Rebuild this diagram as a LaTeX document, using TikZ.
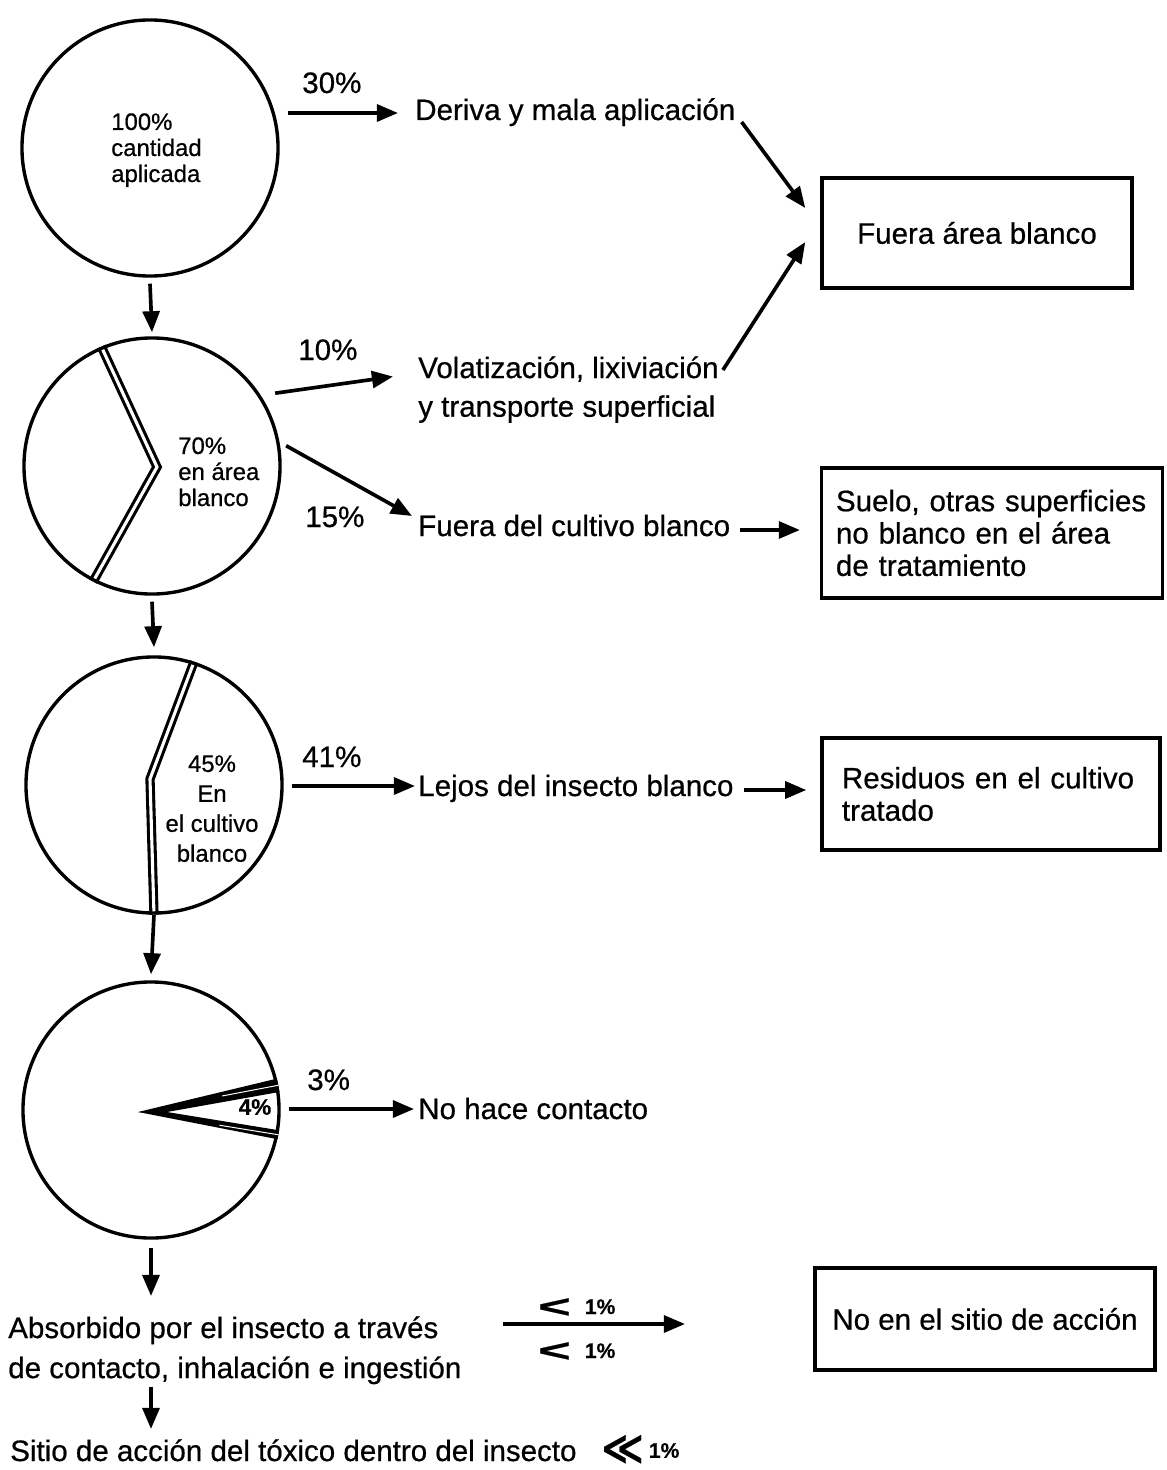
\documentclass[tikz,border=0pt]{standalone}
\usepackage{fontspec}
\setmainfont{Liberation Sans}[FakeBold=0.6]
\newfontfamily\llfont{DejaVu Sans}[FakeBold=0.6]
\usepackage{tikz}
\usetikzlibrary{positioning, arrows.meta, calc, backgrounds}

\newcommand{\lessmark}{\raisebox{-2.5pt}{\scalebox{1.65}[0.95]{\bfseries\fontsize{24}{24}\selectfont <}}}

\begin{document}
\begin{tikzpicture}[
  x=0.025cm, y=-0.025cm,
  every node/.style={font=\fontsize{21}{25}\selectfont},
  pie/.style={circle, draw, line width=2.4pt, minimum size=6.4cm, inner sep=0pt},
  box/.style={rectangle, draw, line width=2.4pt, align=left, inner sep=0pt},
  txt/.style={inner sep=0pt, align=left},
  small/.style={inner sep=0pt, font=\fontsize{17}{18.5}\selectfont},
  pct/.style={inner sep=0pt, anchor=base west},
  arrow/.style={-{Triangle[length=15pt, width=12pt]}, line width=2.6pt},
  split/.style={double, double distance=2.2pt, line width=2.2pt, line join=miter}
]
\useasboundingbox (0,0) rectangle (1166,1470);

% ── Circles ───────────────────────────────────────────────────────────────────
\node[pie] (c1) at (150,148) {};
\node[pie] (c2) at (152,466) {};
\node[pie] (c3) at (154,785) {};
\node[pie] (c4) at (151,1110) {};

\node[small, align=left, anchor=north west] (c1t) at (111,113)
  {100\%\\cantidad\\aplicada};
\node[small, align=left, anchor=north west] (c2t) at (178,437)
  {70\%\\en área\\blanco};
\node[small, align=center, anchor=north, font=\fontsize{17}{21.3}\selectfont]
  (c3t) at (212,755) {45\%\\En\\el cultivo\\blanco};
\node[inner sep=0pt, font=\bfseries\fontsize{16}{16}\selectfont] (c4t) at (255,1107) {4\%};

% split lines inside the circles
\begin{scope}[on background layer]
  \draw[split] (c2.113) -- ($(c2.center)+(5,1)$) -- (c2.243);
  \draw[split] (c3.72) -- ($(c3.center)+(-4,-6)$) -- (c3.south);
\end{scope}

% 4% wedge
\coordinate (w4)  at ($(c4.center)+(-13,2)$);
\coordinate (w4i) at ($(c4.center)+(16,2)$);
\fill (w4) -- (c4.14.5) -- (c4.8.5) -- (w4i) -- cycle;
\fill (w4) -- (c4.-13.5) -- (c4.-9) -- (w4i) -- cycle;
\draw[white, line width=0.7pt] ($(w4)!0.6!(c4.11.5)$) -- (c4.11.5);
\draw[white, line width=0.7pt] ($(w4)!0.58!(c4.-11)$) -- (c4.-11);

% ── Right-hand texts ──────────────────────────────────────────────────────────
\node[pct] (p30) at (302,93)  {30\%};
\node[pct] (p10) at (298,360) {10\%};
\node[pct] (p15) at (305,527) {15\%};
\node[pct] (p41) at (302,767) {41\%};
\node[pct] (p3)  at (307,1090) {3\%};

\node[txt, anchor=base west] (der) at (415,120) {Deriva y mala aplicación};
\node[txt, anchor=north west, font=\fontsize{21}{27.5}\selectfont]
  (vol) at (418,356) {Volatización, lixiviación\\y transporte superficial};
\node[txt, anchor=base west] (fc)  at (418,536) {Fuera del cultivo blanco};
\node[txt, anchor=base west] (lej) at (418,796) {Lejos del insecto blanco};
\node[txt, anchor=base west] (nhc) at (418,1119) {No hace contacto};

% ── Boxes ─────────────────────────────────────────────────────────────────────
\node[box, align=center, minimum width=7.75cm, minimum height=2.75cm]
  (fuera) at (977,233) {Fuera área blanco};
\node[box, text width=7.8cm, inner xsep=0.36cm, minimum height=3.25cm,
      font=\fontsize{21}{23}\selectfont]
  (suelo) at (992,533) {Suelo, otras superficies\\no blanco en el área\\de tratamiento};
\node[box, text width=7.45cm, inner xsep=0.5cm, minimum height=2.8cm,
      font=\fontsize{21}{23}\selectfont]
  (res) at (991,794) {Residuos en el cultivo\\tratado};
\node[box, align=center, minimum width=8.5cm, minimum height=2.55cm]
  (noen) at (985,1319) {No en el sitio de acción};

% ── Bottom texts ──────────────────────────────────────────────────────────────
\node[txt, anchor=north west, font=\fontsize{21}{28.5}\selectfont]
  (abs) at (8,1316) {Absorbido por el insecto a través\\de contacto, inhalación e ingestión};
\node[txt, anchor=base west] (sitio) at (10,1461)
  {Sitio de acción del tóxico dentro del insecto};
\node[pct] (ll) at (601,1462)
  {{\llfont\bfseries\fontsize{29}{29}\selectfont ≪}\,\raisebox{3pt}{\textbf{\fontsize{15}{15}\selectfont 1\%}}};

\coordinate (ra) at (503,1324);
\coordinate (rb) at (685,1324);
\node[pct] (lta) at (538,1314) {\lessmark\hspace{10pt}\textbf{\fontsize{15}{15}\selectfont 1\%}};
\node[pct] (ltb) at (538,1358) {\lessmark\hspace{10pt}\textbf{\fontsize{15}{15}\selectfont 1\%}};

% ── Arrows ────────────────────────────────────────────────────────────────────
\draw[arrow] ($(c1.south)+(0,6)$) -- ($(c2.north)+(0,-4)$);
\draw[arrow] ($(c2.south)+(0,6)$) -- ($(c3.north)+(0,-8)$);
\draw[arrow] (c3.south) -- ($(c4.north)+(0,-6)$);
\draw[arrow] ($(c4.south)+(0,8)$) -- ($(c4.south |- abs.north)+(0,-20)$);
\draw[arrow] ($(c4.south |- abs.south)+(0,2)$) -- ($(c4.south |- sitio.north)+(0,-10)$);

\draw[arrow] ($(c1.east |- der.base west)+(8,-7)$) -- ($(der.base west)+(-17,-7)$);
\draw[arrow] ($(der.base east)+(6,2)$) -- ($(fuera.west)+(-15,-25)$);
\draw[arrow] ($(vol.north east)+(4,14)$) -- ($(fuera.west)+(-15,9)$);
\draw[arrow] ($(c2.31)+(12,-6)$) -- ($(vol.west)+(-25,-13)$);
\draw[arrow] ($(c2.9)+(6,0)$) -- ($(fc.base west)+(-6,-20)$);
\draw[arrow] ($(fc.base east)+(10,-6)$) -- ($(fc.base east -| suelo.west)+(-20,-6)$);
\draw[arrow] ($(c3.east |- lej.base west)+(8,-10)$) -- ($(lej.base west)+(-3,-10)$);
\draw[arrow] ($(lej.base east)+(10,-6)$) -- ($(lej.base east -| res.west)+(-14,-6)$);
\draw[arrow] ($(c4.east |- nhc.base west)+(8,-10)$) -- ($(nhc.base west)+(-4,-10)$);
\draw[arrow] (ra) -- (rb);

\end{tikzpicture}
\end{document}
